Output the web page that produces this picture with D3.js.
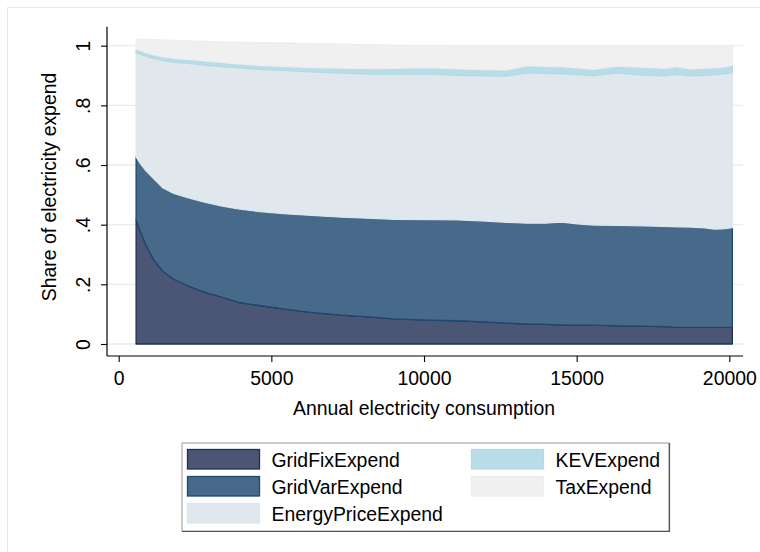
<!DOCTYPE html>
<html><head><meta charset="utf-8">
<script src="https://cdn.jsdelivr.net/npm/d3@7"></script>
<style>
body{margin:0;background:#fff}
svg{display:block}
text{font-family:"Liberation Sans",Arial,sans-serif;fill:#000}
</style>
</head><body><svg id="c" width="760" height="552"></svg>
<script>
const consumption = [570,700,900,1150,1450,1800,2250,2800,3350,3900,4600,5400,6300,7300,8300,9000,10200,11100,12000,12700,13370,14000,14500,15000,15550,16320,17100,17850,18280,18720,19200,19500,19810,20100];
const gridFix = [.416,.380,.330,.282,.243,.218,.196,.174,.158,.140,.129,.118,.106,.097,.090,.084,.080,.078,.074,.070,.067,.066,.064,.063,.063,.061,.060,.058,.056,.056,.056,.056,.056,.056];
const gridVar = [.211,.226,.250,.272,.280,.287,.295,.302,.305,.313,.315,.319,.325,.328,.331,.334,.337,.338,.338,.338,.338,.339,.345,.340,.336,.337,.336,.336,.337,.336,.333,.329,.330,.334];
const energyPrice = [.350,.366,.385,.403,.427,.440,.450,.459,.467,.473,.477,.480,.481,.483,.484,.487,.488,.485,.487,.490,.504,.502,.497,.500,.500,.511,.506,.505,.511,.507,.512,.518,.519,.519];
const kev = [.011,.012,.012,.012,.013,.013,.013,.014,.014,.013,.013,.014,.015,.017,.018,.019,.022,.021,.021,.020,.024,.024,.024,.023,.022,.023,.026,.025,.026,.023,.024,.023,.023,.026];
const tax = [.034,.038,.044,.051,.056,.060,.062,.065,.068,.072,.076,.078,.080,.080,.080,.078,.074,.078,.080,.082,.067,.069,.070,.074,.079,.068,.072,.076,.070,.078,.075,.073,.071,.064];

const seriesNames = ["GridFixExpend","GridVarExpend","EnergyPriceExpend","KEVExpend","TaxExpend"];
const seriesValues = [gridFix, gridVar, energyPrice, kev, tax];
const yTicks = [0,0.2,0.4,0.6,0.8,1];
const yTickLabels = ["0",".2",".4",".6",".8","1"];
const xTicks = [0,5000,10000,15000,20000];
const xTickLabels = ["0","5000","10000","15000","20000"];
const xTitle = "Annual electricity consumption";
const yTitle = "Share of electricity expend";

const fills = ["#4b5674","#486a8a","#e0e8ee","#b9dde8","#f0f0f0"];
const strokes = ["#1f2f58","#1d4870","#dde6ec","#b2dae6","#ededed"];
const FS = "19.4px";

const svg = d3.select("#c");
const P = {l:107, r:743, t:26.7, b:356};

// outer graph border
svg.append("rect").attr("x",7.5).attr("y",7.5).attr("width",800).attr("height",600)
  .attr("fill","none").attr("stroke","#e2ecee").attr("stroke-width",1);

const x = d3.scaleLinear().domain([0,20000]).range([118.7,729.3]);
const y = d3.scaleLinear().domain([0,1]).range([344,45.7]);

// gridlines
svg.append("g").selectAll("line").data(yTicks).join("line")
  .attr("x1",P.l).attr("x2",P.r).attr("y1",d=>y(d)).attr("y2",d=>y(d))
  .attr("stroke","#e6eef0").attr("stroke-width",1.3);

const rows = consumption.map((c,i)=>{
  const o={x:c}; seriesNames.forEach((n,k)=>o[n]=seriesValues[k][i]); return o;
});
const stacked = d3.stack().keys(seriesNames)(rows);
const area = d3.area().x(d=>x(d.data.x)).y0(d=>y(d[0])).y1(d=>y(d[1]));

svg.append("g").selectAll("path").data(stacked).join("path")
  .attr("d",area)
  .attr("fill",(d,i)=>fills[i])
  .attr("stroke",(d,i)=>strokes[i])
  .attr("stroke-width",1.3)
  .attr("stroke-linejoin","round");

// axis lines
svg.append("line").attr("x1",P.l).attr("x2",P.l).attr("y1",P.t).attr("y2",P.b)
  .attr("stroke","#000").attr("stroke-width",1.2);
svg.append("line").attr("x1",P.l).attr("x2",P.r).attr("y1",P.b).attr("y2",P.b)
  .attr("stroke","#000").attr("stroke-width",1.2);

// y axis
const gy = svg.append("g").attr("transform",`translate(${P.l},0)`)
  .call(d3.axisLeft(y).tickValues(yTicks).tickSize(6).tickSizeOuter(0).tickFormat((d,i)=>yTickLabels[i]));
gy.select(".domain").remove();
gy.selectAll(".tick line").attr("stroke","#000").attr("stroke-width",1.1);
gy.selectAll(".tick text").attr("x",null).attr("dy",null).attr("y",null)
  .attr("transform","translate(-17.5,0) rotate(-90)")
  .attr("text-anchor","middle").style("font-size",FS)
  .style("font-family","'Liberation Sans',Arial,sans-serif").attr("fill","#000");

// x axis
const gx = svg.append("g").attr("transform",`translate(0,${P.b})`)
  .call(d3.axisBottom(x).tickValues(xTicks).tickSize(6).tickSizeOuter(0).tickFormat((d,i)=>xTickLabels[i]));
gx.select(".domain").remove();
gx.selectAll(".tick line").attr("stroke","#000").attr("stroke-width",1.1);
gx.selectAll(".tick text").attr("dy",null).attr("y",29)
  .style("font-size",FS).style("font-family","'Liberation Sans',Arial,sans-serif").attr("fill","#000");

// titles
svg.append("text").attr("x",424).attr("y",415).attr("text-anchor","middle")
  .style("font-size",FS).text(xTitle);
svg.append("text").attr("transform","translate(56,187) rotate(-90)").attr("text-anchor","middle")
  .style("font-size",FS).text(yTitle);

// legend
const lg = svg.append("g");
lg.append("rect").attr("x",182).attr("y",443).attr("width",487).attr("height",88)
  .attr("fill","none").attr("stroke","#9a9a9a").attr("stroke-width",1);
lg.append("path").attr("d","M182,531.5 H669.5 V443").attr("fill","none").attr("stroke","#555").attr("stroke-width",1.2);
const colX = [187.5, 471.5], textX = [271.5, 555.5];
seriesNames.forEach((n,i)=>{
  const c = i<3?0:1, r = i<3?i:i-3;
  const top = 449.5 + r*27;
  lg.append("rect").attr("x",colX[c]).attr("y",top).attr("width",72).attr("height",19.5)
    .attr("fill",fills[i]).attr("stroke",strokes[i]).attr("stroke-width",1.3);
  lg.append("text").attr("x",textX[c]).attr("y",top+17.5).style("font-size",FS).text(n);
});
</script>
</body></html>
